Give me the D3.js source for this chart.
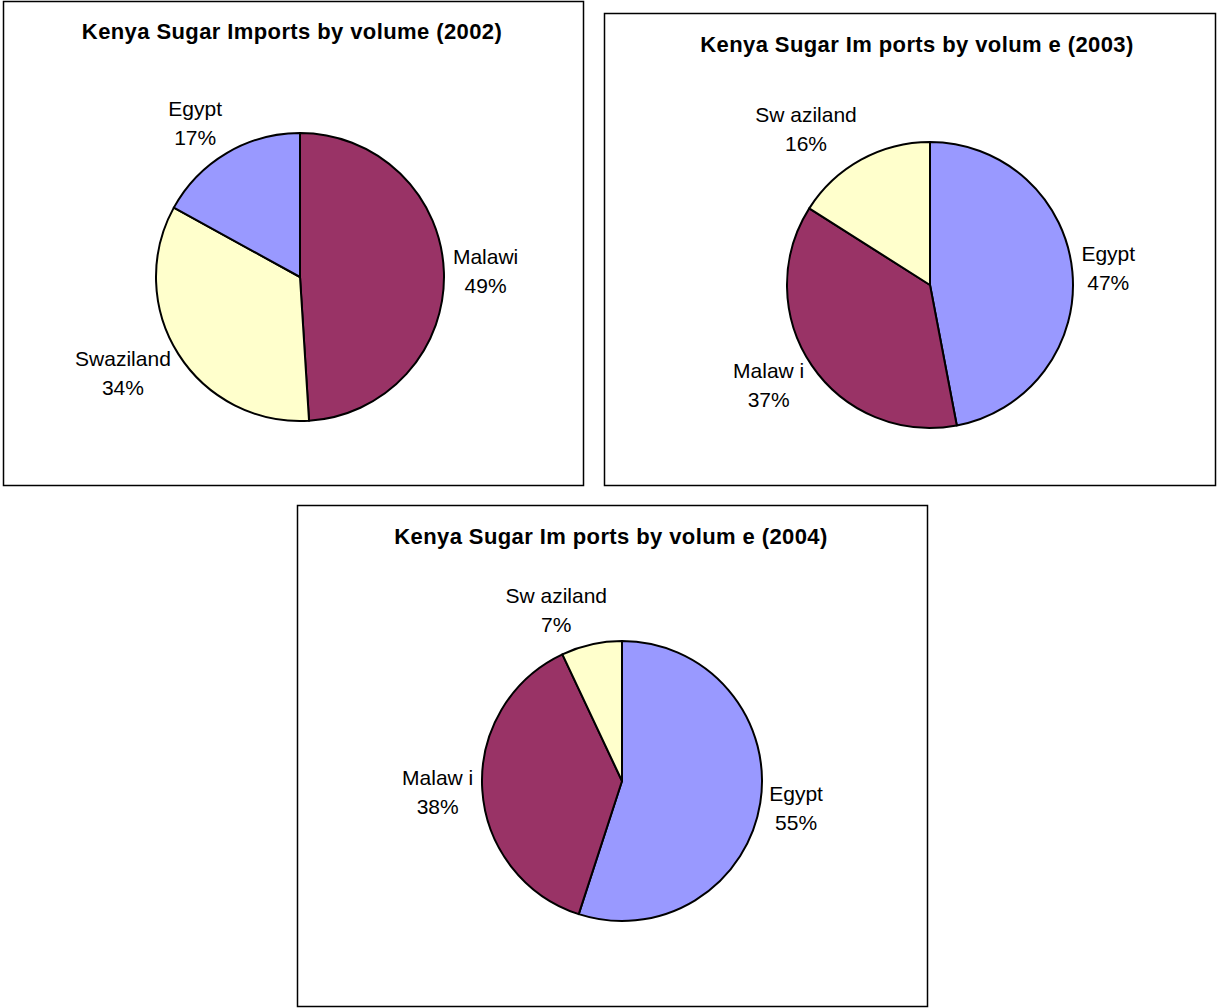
<!DOCTYPE html>
<html>
<head>
<meta charset="utf-8">
<script src="https://cdn.jsdelivr.net/npm/d3@7"></script>
<style>
  body { margin: 0; background: #fff; }
  svg { display: block; }
  text { font-family: "Liberation Sans", Arial, sans-serif; fill: #000; }
</style>
</head>
<body>
<script>

// data, one pie per year, slices in drawing order (clockwise from 12 o'clock)
const years = ["2002", "2003", "2004"]

const categories2002 = ["Malawi", "Swaziland", "Egypt"]
const values2002 = [49, 34, 17]

const categories2003 = ["Egypt", "Malawi", "Swaziland"]
const values2003 = [47, 37, 16]

const categories2004 = ["Egypt", "Malawi", "Swaziland"]
const values2004 = [55, 38, 7]

// label text as printed on the charts
const labels2002 = ["Malawi", "Swaziland", "Egypt"]
const labels2003 = ["Egypt", "Malaw i", "Sw aziland"]
const labels2004 = ["Egypt", "Malaw i", "Sw aziland"]

const titles = [
  "Kenya Sugar Imports by volume (2002)",
  "Kenya Sugar Im ports by volum e (2003)",
  "Kenya Sugar Im ports by volum e (2004)"
]

const color = d3.scaleOrdinal()
  .domain(["Egypt", "Malawi", "Swaziland"])
  .range(["#9999FF", "#993366", "#FFFFCC"])

// panel layout
const panels = [
  {box: [3, 1, 580, 484], cx: 300, cy: 277, r: 144, tx: 292, ty: 39},
  {box: [604, 13, 611, 472], cx: 930, cy: 285, r: 143, tx: 917, ty: 52},
  {box: [297, 505, 630, 501], cx: 622, cy: 781, r: 140, tx: 611, ty: 544}
]

const series = [
  {cats: categories2002, vals: values2002, labels: labels2002},
  {cats: categories2003, vals: values2003, labels: labels2003},
  {cats: categories2004, vals: values2004, labels: labels2004}
]

const svg = d3.select("body").append("svg")
  .attr("width", 1217)
  .attr("height", 1008)

const pie = d3.pie().sort(null).value(d => d.value)

years.forEach(function(year, i) {

  let p = panels[i]
  let s = series[i]

  let g = svg.append("g").attr("class", "panel-" + year)

  g.append("rect")
    .attr("x", p.box[0] + 0.5)
    .attr("y", p.box[1] + 0.5)
    .attr("width", p.box[2])
    .attr("height", p.box[3])
    .attr("fill", "#fff")
    .attr("stroke", "#000")
    .attr("stroke-width", 1.5)

  g.append("text")
    .attr("x", p.tx)
    .attr("y", p.ty)
    .attr("text-anchor", "middle")
    .attr("font-size", "22px")
    .attr("font-weight", "bold")
    .attr("letter-spacing", "0.4px")
    .text(titles[i])

  let rows = s.cats.map((c, k) => ({cat: c, value: s.vals[k], label: s.labels[k]}))
  let arcs = pie(rows)

  let arc = d3.arc().innerRadius(0).outerRadius(p.r)

  let pg = g.append("g").attr("transform", "translate(" + p.cx + "," + p.cy + ")")

  pg.selectAll("path")
    .data(arcs)
    .enter()
    .append("path")
    .attr("d", arc)
    .attr("fill", d => color(d.data.cat))
    .attr("stroke", "#000")
    .attr("stroke-width", 2)
    .attr("stroke-linejoin", "round")

  // labels sit outside the rim, pushed out along the slice's mid angle
  let labels = pg.selectAll(".label")
    .data(arcs)
    .enter()
    .append("text")
    .attr("class", "label")
    .attr("text-anchor", "middle")
    .attr("font-size", "21px")

  labels.append("tspan").attr("x", 0).attr("dy", 0).text(d => d.data.label)
  labels.append("tspan").attr("x", 0).attr("dy", 29).text(d => Math.round(d.data.value) + "%")

  labels.each(function(d) {
    let box = this.getBBox()
    let mid = (d.startAngle + d.endAngle) / 2
    let sx = Math.sin(mid), sy = -Math.cos(mid)
    let rr = p.r + 9
    let fx = Math.max(-1, Math.min(1, sx * 3))
    let cx = rr * sx + fx * box.width / 2
    let cy = rr * sy + sy * box.height / 2
    let oy = box.y + box.height / 2
    d3.select(this).attr("transform", "translate(" + cx + "," + (cy - oy) + ")")
  })

})

</script>
</body>
</html>
